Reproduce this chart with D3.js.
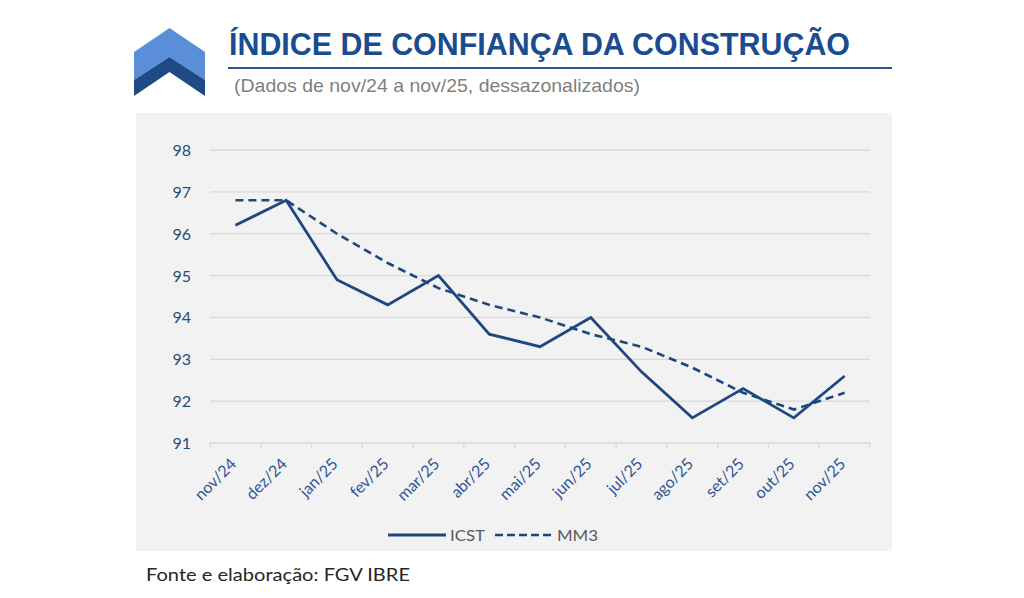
<!DOCTYPE html>
<html>
<head>
<meta charset="utf-8">
<script src="https://cdn.jsdelivr.net/npm/d3@7"></script>
<style>
  body { margin: 0; background: #fff; }
  svg { display: block; }
</style>
</head>
<body>
<div id="chart"></div>
<script>
// data
const months = ["nov/24", "dez/24", "jan/25", "fev/25", "mar/25", "abr/25", "mai/25",
  "jun/25", "jul/25", "ago/25", "set/25", "out/25", "nov/25"];
const icst = [96.2, 96.8, 94.9, 94.3, 95.0, 93.6, 93.3, 94.0, 92.7, 91.6, 92.3, 91.6, 92.6];
const mm3 = [96.8, 96.8, 96.0, 95.3, 94.7, 94.3, 94.0, 93.6, 93.3, 92.8, 92.2, 91.8, 92.2];
const yTicks = [91, 92, 93, 94, 95, 96, 97, 98];

const width = 1024, height = 598;
const lineColor = "#1f477f";
const bodyFont = "Lato, 'Open Sans', sans-serif";

const svg = d3.select("#chart").append("svg")
  .attr("width", width)
  .attr("height", height);

// header logo (two chevrons)
svg.append("polygon")
  .attr("points", "134,52 169.5,28 205,52 205,80 169.5,57 134,80")
  .attr("fill", "#5b8ed8");
svg.append("polygon")
  .attr("points", "134,80 169.5,57 205,80 205,96 169.5,72 134,96")
  .attr("fill", "#1f4a86");

// title
svg.append("text")
  .attr("x", 229).attr("y", 55)
  .attr("textLength", 621).attr("lengthAdjust", "spacingAndGlyphs")
  .style("font-family", "'Liberation Sans Narrow', 'Liberation Sans', Arial, sans-serif")
  .style("font-weight", "bold")
  .style("font-size", "31px")
  .style("fill", "#1a4d90")
  .text("ÍNDICE DE CONFIANÇA DA CONSTRUÇÃO");

svg.append("line")
  .attr("x1", 228).attr("x2", 892)
  .attr("y1", 68).attr("y2", 68)
  .attr("stroke", "#2f5597").attr("stroke-width", 2);

svg.append("text")
  .attr("x", 234).attr("y", 92)
  .attr("textLength", 406).attr("lengthAdjust", "spacingAndGlyphs")
  .style("font-family", "'Liberation Sans Narrow', 'Liberation Sans', Arial, sans-serif")
  .style("font-size", "19px")
  .style("fill", "#7f7f7f")
  .text("(Dados de nov/24 a nov/25, dessazonalizados)");

// chart panel
svg.append("rect")
  .attr("x", 136).attr("y", 113)
  .attr("width", 756).attr("height", 438)
  .attr("fill", "#f2f2f2");

const x = d3.scaleBand().domain(months).range([210, 870]);
const y = d3.scaleLinear().domain([91, 98]).range([443, 150]);

// gridlines
svg.append("g")
  .selectAll("line")
  .data(yTicks.filter(d => d > 91))
  .join("line")
  .attr("x1", 210).attr("x2", 870)
  .attr("y1", d => y(d)).attr("y2", d => y(d))
  .attr("stroke", "#d9d9d9").attr("stroke-width", 1.3);

// y labels
svg.append("g")
  .selectAll("text")
  .data(yTicks)
  .join("text")
  .attr("x", 191)
  .attr("y", d => y(d) + 6)
  .attr("text-anchor", "end")
  .style("font-family", bodyFont)
  .style("font-size", "16px")
  .style("fill", "#1f4e79")
  .text(d => d);

// x axis line + ticks
svg.append("line")
  .attr("x1", 210).attr("x2", 870)
  .attr("y1", y(91)).attr("y2", y(91))
  .attr("stroke", "#d9d9d9").attr("stroke-width", 1.3);

const bounds = months.map(m => x(m)).concat([870]);
svg.append("g")
  .selectAll("line")
  .data(bounds)
  .join("line")
  .attr("x1", d => d).attr("x2", d => d)
  .attr("y1", y(91)).attr("y2", y(91) + 5)
  .attr("stroke", "#d9d9d9").attr("stroke-width", 1.3);

// x labels, rotated
svg.append("g")
  .selectAll("text")
  .data(months)
  .join("text")
  .attr("transform", d => `translate(${x(d) + x.bandwidth() / 2 + 2},${y(91) + 22}) rotate(-45)`)
  .attr("text-anchor", "end")
  .style("font-family", bodyFont)
  .style("font-size", "16px")
  .style("fill", "#2f5597")
  .text(d => d);

const line = d3.line()
  .x((d, i) => x(months[i]) + x.bandwidth() / 2)
  .y(d => y(d));

svg.append("path")
  .datum(mm3)
  .attr("d", line)
  .attr("fill", "none")
  .attr("stroke", lineColor)
  .attr("stroke-width", 2.6)
  .attr("stroke-dasharray", "8,5");

svg.append("path")
  .datum(icst)
  .attr("d", line)
  .attr("fill", "none")
  .attr("stroke", lineColor)
  .attr("stroke-width", 2.8)
  .attr("stroke-linejoin", "miter");

// legend
const legend = svg.append("g");
legend.append("line")
  .attr("x1", 388).attr("x2", 446).attr("y1", 535).attr("y2", 535)
  .attr("stroke", lineColor).attr("stroke-width", 2.8);
legend.append("text")
  .attr("x", 450).attr("y", 541)
  .attr("textLength", 35).attr("lengthAdjust", "spacingAndGlyphs")
  .style("font-family", bodyFont)
  .style("font-size", "16px")
  .style("fill", "#595959")
  .text("ICST");
legend.append("line")
  .attr("x1", 495).attr("x2", 553).attr("y1", 535).attr("y2", 535)
  .attr("stroke", lineColor).attr("stroke-width", 2.6)
  .attr("stroke-dasharray", "8,4");
legend.append("text")
  .attr("x", 557).attr("y", 541)
  .attr("textLength", 41).attr("lengthAdjust", "spacingAndGlyphs")
  .style("font-family", bodyFont)
  .style("font-size", "16px")
  .style("fill", "#595959")
  .text("MM3");

// source
svg.append("text")
  .attr("x", 146).attr("y", 581)
  .attr("textLength", 264).attr("lengthAdjust", "spacingAndGlyphs")
  .style("font-family", bodyFont)
  .style("font-size", "18px")
  .style("fill", "#262626")
  .text("Fonte e elaboração: FGV IBRE");
</script>
</body>
</html>
